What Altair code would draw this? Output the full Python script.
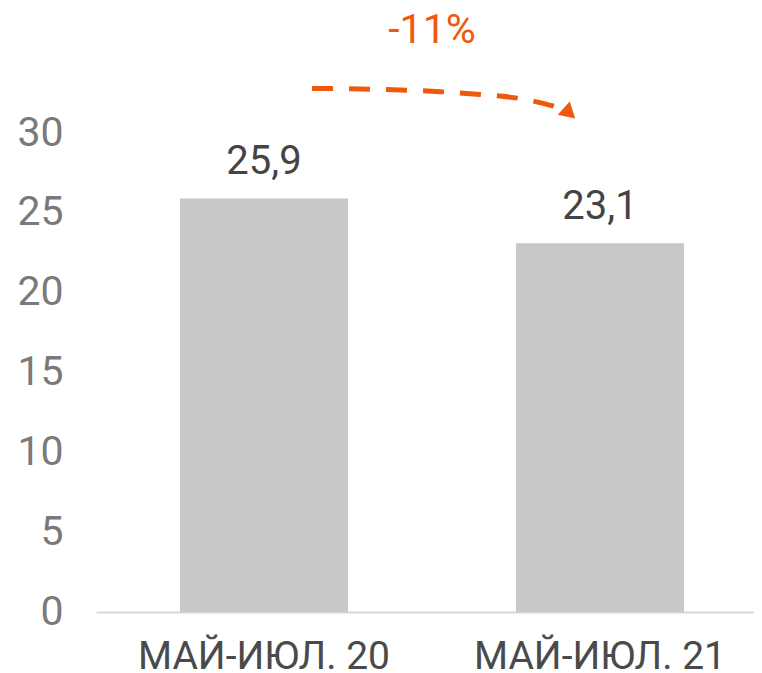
import altair as alt
import pandas as pd

categories = ["МАЙ-ИЮЛ. 20", "МАЙ-ИЮЛ. 21"]
values = [25.9, 23.1]
value_labels = ["25,9", "23,1"]

change_label = "-11%"
change_x = [0.5]
change_y = [36.4]

arrow_x = [0.143, 0.286, 0.405, 0.524, 0.643, 0.762, 0.872]
arrow_y = [32.79, 32.76, 32.69, 32.59, 32.41, 32.16, 31.63]
head_x = [0.905]
head_y = [31.5]

FONT = "Roboto"
ORANGE = "#f0580c"

bars_df = pd.DataFrame({"cat": categories, "val": values, "lab": value_labels})
arrow_df = pd.DataFrame({"x": arrow_x, "y": arrow_y, "o": list(range(len(arrow_x)))})
head_df = pd.DataFrame({"x": head_x, "y": head_y})
change_df = pd.DataFrame({"x": change_x, "y": change_y, "t": [change_label]})

RANGE = [0, 672]
yscale = alt.Scale(domain=[0, 30], nice=False)
xq = alt.Scale(domain=[-0.5, 1.5], range=RANGE)

base = alt.Chart(bars_df).encode(
    x=alt.X("cat:N", sort=categories, title=None,
            scale=alt.Scale(paddingInner=0.5, paddingOuter=0.25, range=RANGE),
            axis=alt.Axis(labelAngle=0, labelFont=FONT, labelFontSize=39,
                          labelColor="#4a4a4a", labelPadding=25, ticks=False,
                          labelLimit=0, domainColor="#d9d9d9", domainWidth=2)),
    y=alt.Y("val:Q", scale=yscale, title=None,
            axis=alt.Axis(values=[0, 5, 10, 15, 20, 25, 30], grid=False, domain=False,
                          ticks=False, labelFont=FONT, labelFontSize=41,
                          labelColor="#7a7a7a", labelPadding=33)),
)

bars = base.mark_bar(color="#c8c8c6")
labels = base.mark_text(baseline="bottom", dy=-16, font=FONT, fontSize=40,
                        color="#444444").encode(text="lab:N")
bar_layer = alt.layer(bars, labels)

arrow = alt.Chart(arrow_df).mark_line(
    color=ORANGE, strokeWidth=5, strokeDash=[21, 16], interpolate="monotone"
).encode(
    x=alt.X("x:Q", scale=xq, axis=None),
    y=alt.Y("y:Q", scale=yscale),
    order="o:Q",
)
head = alt.Chart(head_df).mark_point(
    shape="triangle-up", filled=True, color=ORANGE, size=320, angle=12, opacity=1
).encode(
    x=alt.X("x:Q", scale=xq, axis=None),
    y=alt.Y("y:Q", scale=yscale),
)
change = alt.Chart(change_df).mark_text(
    font=FONT, fontSize=41, color=ORANGE, baseline="middle", align="center"
).encode(
    x=alt.X("x:Q", scale=xq, axis=None),
    y=alt.Y("y:Q", scale=yscale),
    text="t:N",
)
annot_layer = alt.layer(arrow, head, change)

chart = alt.layer(bar_layer, annot_layer).resolve_scale(
    x="independent"
).properties(
    width=658, height=479,
    autosize=alt.AutoSizeParams(type="none"),
    padding={"left": 88, "top": 125, "right": 0, "bottom": 58},
).configure_view(stroke=None)

chart.save("out.html", embed_options={"renderer": "svg", "actions": False})
